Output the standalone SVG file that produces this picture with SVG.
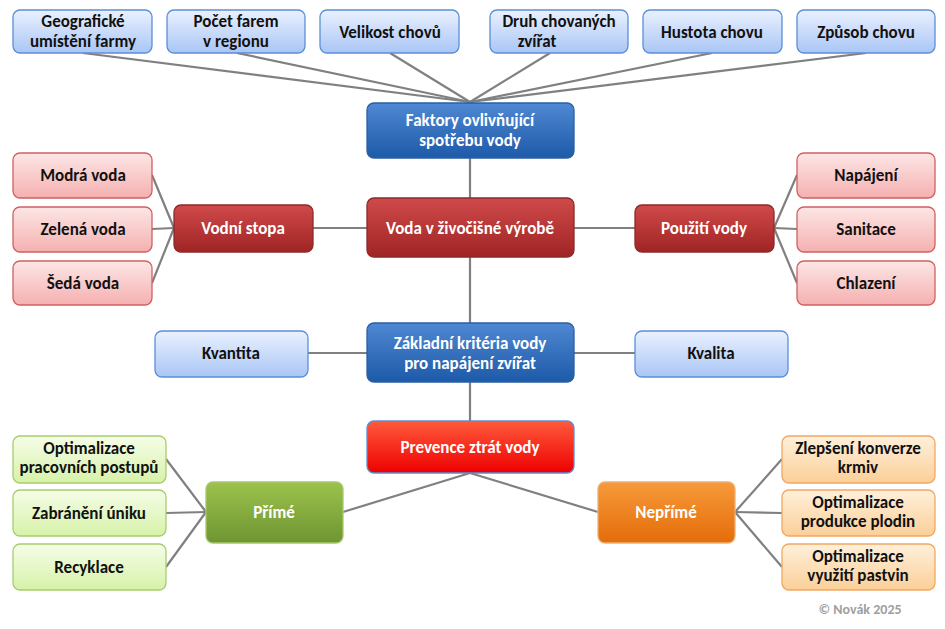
<svg xmlns="http://www.w3.org/2000/svg" width="945" height="629" viewBox="0 0 945 629">
<defs>
<linearGradient id="lb" x1="0" y1="0" x2="0" y2="1"><stop offset="0" stop-color="#eaf1ff"/><stop offset="1" stop-color="#a9c6f5"/></linearGradient>
<linearGradient id="db" x1="0" y1="0" x2="0" y2="1"><stop offset="0" stop-color="#4f88d3"/><stop offset="1" stop-color="#1d5aa8"/></linearGradient>
<linearGradient id="dr" x1="0" y1="0" x2="0" y2="1"><stop offset="0" stop-color="#d04a4a"/><stop offset="1" stop-color="#a02424"/></linearGradient>
<linearGradient id="lr" x1="0" y1="0" x2="0" y2="1"><stop offset="0" stop-color="#fde6e6"/><stop offset="1" stop-color="#f5b0b0"/></linearGradient>
<linearGradient id="rr" x1="0" y1="0" x2="0" y2="1"><stop offset="0" stop-color="#ff5a3c"/><stop offset="1" stop-color="#ee0000"/></linearGradient>
<linearGradient id="dg" x1="0" y1="0" x2="0" y2="1"><stop offset="0" stop-color="#9cc24c"/><stop offset="1" stop-color="#6e9532"/></linearGradient>
<linearGradient id="lg" x1="0" y1="0" x2="0" y2="1"><stop offset="0" stop-color="#f6fde8"/><stop offset="1" stop-color="#d6f2a8"/></linearGradient>
<linearGradient id="do" x1="0" y1="0" x2="0" y2="1"><stop offset="0" stop-color="#f79a3a"/><stop offset="1" stop-color="#e46c0a"/></linearGradient>
<linearGradient id="lo" x1="0" y1="0" x2="0" y2="1"><stop offset="0" stop-color="#fff0dc"/><stop offset="1" stop-color="#fbcf98"/></linearGradient>
</defs>
<style>
rect{rx:7px;ry:7px;stroke-width:1.3}
.lb{fill:url(#lb);stroke:#5b8fd6}
.db{fill:url(#db);stroke:#2a5fa3}
.dr{fill:url(#dr);stroke:#8b2a2a}
.lr{fill:url(#lr);stroke:#d06060}
.rr{fill:url(#rr);stroke:#5b8fd6}
.dg{fill:url(#dg);stroke:#a8c86a}
.lg{fill:url(#lg);stroke:#a8cc70}
.do{fill:url(#do);stroke:#f0b070}
.lo{fill:url(#lo);stroke:#f0a860}
text{font-family:Calibri,Carlito,"Liberation Sans",sans-serif;font-weight:bold;font-size:17px;text-anchor:middle;fill:#111}
.w{fill:#fff}
#conn line{stroke:#808080;stroke-width:2.2}
</style>
<g id="conn">
<line x1="83" y1="53" x2="470" y2="102"/><line x1="237" y1="53" x2="470" y2="102"/><line x1="390" y1="53" x2="470" y2="102"/>
<line x1="550" y1="53" x2="470" y2="102"/><line x1="712" y1="53" x2="470" y2="102"/><line x1="866" y1="53" x2="470" y2="102"/>
<line x1="470" y1="158" x2="470" y2="421"/>
<line x1="313" y1="228" x2="367" y2="228"/><line x1="574" y1="228" x2="635" y2="228"/>
<line x1="174" y1="228" x2="152" y2="175"/><line x1="174" y1="228" x2="152" y2="229"/><line x1="174" y1="228" x2="152" y2="283"/>
<line x1="774" y1="228" x2="797" y2="175"/><line x1="774" y1="228" x2="797" y2="229"/><line x1="774" y1="228" x2="797" y2="283"/>
<line x1="308" y1="353" x2="367" y2="353"/><line x1="574" y1="353" x2="635" y2="353"/>
<line x1="470" y1="473" x2="343" y2="512"/><line x1="470" y1="473" x2="598" y2="512"/>
<line x1="206" y1="512" x2="166" y2="459"/><line x1="206" y1="512" x2="166" y2="513"/><line x1="206" y1="512" x2="166" y2="567"/>
<line x1="735" y1="512" x2="782" y2="459"/><line x1="735" y1="512" x2="782" y2="513"/><line x1="735" y1="512" x2="782" y2="567"/>
</g>
<g id="t1"><rect class="lb" x="13" y="10" width="139" height="43"/><text x="83" y="27">Geografické</text><text x="83" y="47">umístění farmy</text></g>
<g id="t2"><rect class="lb" x="167" y="10" width="138" height="43"/><text x="236" y="27">Počet farem</text><text x="236" y="47">v regionu</text></g>
<g id="t3"><rect class="lb" x="320" y="10" width="139" height="43"/><text x="390" y="38">Velikost chovů</text></g>
<g id="t4"><rect class="lb" x="490" y="10" width="138" height="43"/><text x="559" y="27">Druh chovaných</text><text x="537" y="47">zvířat</text></g>
<g id="t5"><rect class="lb" x="643" y="10" width="139" height="43"/><text x="712" y="38">Hustota chovu</text></g>
<g id="t6"><rect class="lb" x="797" y="10" width="138" height="43"/><text x="866" y="38">Způsob chovu</text></g>
<g id="faktory"><rect class="db" x="367" y="103" width="207" height="55"/><text class="w" x="470" y="126">Faktory ovlivňující</text><text class="w" x="470" y="146">spotřebu vody</text></g>
<g id="voda"><rect class="dr" x="367" y="198" width="207" height="59"/><text class="w" x="470" y="234">Voda v živočišné výrobě</text></g>
<g id="stopa"><rect class="dr" x="174" y="205" width="139" height="47"/><text class="w" x="243" y="234">Vodní stopa</text></g>
<g id="modra"><rect class="lr" x="13" y="153" width="139" height="45"/><text x="83" y="181">Modrá voda</text></g>
<g id="zelena"><rect class="lr" x="13" y="207" width="139" height="45"/><text x="83" y="235">Zelená voda</text></g>
<g id="seda"><rect class="lr" x="13" y="261" width="139" height="44"/><text x="83" y="289">Šedá voda</text></g>
<g id="pouziti"><rect class="dr" x="635" y="205" width="139" height="47"/><text class="w" x="704" y="234">Použití vody</text></g>
<g id="napajeni"><rect class="lr" x="797" y="153" width="138" height="45"/><text x="866" y="181">Napájení</text></g>
<g id="sanitace"><rect class="lr" x="797" y="207" width="138" height="45"/><text x="866" y="235">Sanitace</text></g>
<g id="chlazeni"><rect class="lr" x="797" y="261" width="138" height="44"/><text x="866" y="289">Chlazení</text></g>
<g id="kriteria"><rect class="db" x="367" y="323" width="207" height="59"/><text class="w" x="470" y="349">Základní kritéria vody</text><text class="w" x="470" y="369">pro napájení zvířat</text></g>
<g id="kvantita"><rect class="lb" x="155" y="331" width="153" height="46"/><text x="231" y="359">Kvantita</text></g>
<g id="kvalita"><rect class="lb" x="635" y="331" width="153" height="46"/><text x="711" y="359">Kvalita</text></g>
<g id="prevence"><rect class="rr" x="367" y="421" width="207" height="52"/><text class="w" x="470" y="453">Prevence ztrát vody</text></g>
<g id="prime"><rect class="dg" x="206" y="482" width="137" height="61"/><text class="w" x="274" y="518">Přímé</text></g>
<g id="g1"><rect class="lg" x="13" y="436" width="153" height="47"/><text x="89" y="454">Optimalizace</text><text x="89" y="473">pracovních  postupů</text></g>
<g id="g2"><rect class="lg" x="13" y="490" width="153" height="46"/><text x="89" y="519">Zabránění úniku</text></g>
<g id="g3"><rect class="lg" x="13" y="544" width="153" height="46"/><text x="89" y="573">Recyklace</text></g>
<g id="neprime"><rect class="do" x="598" y="482" width="137" height="61"/><text class="w" x="666" y="518">Nepřímé</text></g>
<g id="o1"><rect class="lo" x="782" y="436" width="153" height="47"/><text x="858" y="454">Zlepšení konverze</text><text x="858" y="473">krmiv</text></g>
<g id="o2"><rect class="lo" x="782" y="490" width="153" height="46"/><text x="858" y="508">Optimalizace</text><text x="858" y="527">produkce plodin</text></g>
<g id="o3"><rect class="lo" x="782" y="544" width="153" height="46"/><text x="858" y="562">Optimalizace</text><text x="858" y="581">využití pastvin</text></g>
<text x="860" y="614" style="fill:#a0a0a0;font-size:14px">© Novák 2025</text>
</svg>
